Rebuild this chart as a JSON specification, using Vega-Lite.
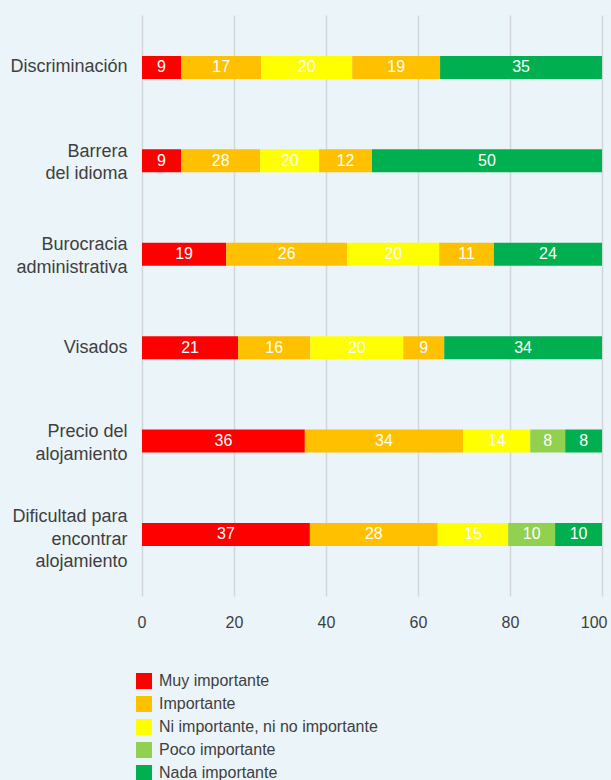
{
  "$schema": "https://vega.github.io/schema/vega-lite/v6.json",
  "autosize": "none",
  "width": 460,
  "height": 581,
  "padding": {"left": 142, "top": 15, "right": 9, "bottom": 184},
  "background": "#EAF4F9",
  "config": {
    "view": {"stroke": null},
    "font": "Liberation Sans",
    "axis": {"labelFont": "Liberation Sans", "labelColor": "#3F3F3F"},
    "legend": {"labelFont": "Liberation Sans", "labelColor": "#3F3F3F"}
  },
  "data": {
    "values": [
      {"categoria": "Discriminación", "serie": "Muy importante", "orden": 1, "valor": 8.5, "etiqueta": "9"},
      {"categoria": "Discriminación", "serie": "Importante", "orden": 2, "valor": 17.4, "etiqueta": "17"},
      {"categoria": "Discriminación", "serie": "Ni importante, ni no importante", "orden": 3, "valor": 19.8, "etiqueta": "20"},
      {"categoria": "Discriminación", "serie": "Poco importante*", "orden": 4, "valor": 19.1, "etiqueta": "19"},
      {"categoria": "Discriminación", "serie": "Nada importante", "orden": 5, "valor": 35.2, "etiqueta": "35"},
      {"categoria": "Barrera|del idioma", "serie": "Muy importante", "orden": 1, "valor": 8.5, "etiqueta": "9"},
      {"categoria": "Barrera|del idioma", "serie": "Importante", "orden": 2, "valor": 17.2, "etiqueta": "28"},
      {"categoria": "Barrera|del idioma", "serie": "Ni importante, ni no importante", "orden": 3, "valor": 12.8, "etiqueta": "20"},
      {"categoria": "Barrera|del idioma", "serie": "Poco importante*", "orden": 4, "valor": 11.5, "etiqueta": "12"},
      {"categoria": "Barrera|del idioma", "serie": "Nada importante", "orden": 5, "valor": 50, "etiqueta": "50"},
      {"categoria": "Burocracia|administrativa", "serie": "Muy importante", "orden": 1, "valor": 18.3, "etiqueta": "19"},
      {"categoria": "Burocracia|administrativa", "serie": "Importante", "orden": 2, "valor": 26.3, "etiqueta": "26"},
      {"categoria": "Burocracia|administrativa", "serie": "Ni importante, ni no importante", "orden": 3, "valor": 20, "etiqueta": "20"},
      {"categoria": "Burocracia|administrativa", "serie": "Poco importante*", "orden": 4, "valor": 11.9, "etiqueta": "11"},
      {"categoria": "Burocracia|administrativa", "serie": "Nada importante", "orden": 5, "valor": 23.5, "etiqueta": "24"},
      {"categoria": "Visados", "serie": "Muy importante", "orden": 1, "valor": 20.9, "etiqueta": "21"},
      {"categoria": "Visados", "serie": "Importante", "orden": 2, "valor": 15.7, "etiqueta": "16"},
      {"categoria": "Visados", "serie": "Ni importante, ni no importante", "orden": 3, "valor": 20.2, "etiqueta": "20"},
      {"categoria": "Visados", "serie": "Poco importante*", "orden": 4, "valor": 8.9, "etiqueta": "9"},
      {"categoria": "Visados", "serie": "Nada importante", "orden": 5, "valor": 34.3, "etiqueta": "34"},
      {"categoria": "Precio del|alojamiento", "serie": "Muy importante", "orden": 1, "valor": 35.4, "etiqueta": "36"},
      {"categoria": "Precio del|alojamiento", "serie": "Importante", "orden": 2, "valor": 34.4, "etiqueta": "34"},
      {"categoria": "Precio del|alojamiento", "serie": "Ni importante, ni no importante", "orden": 3, "valor": 14.6, "etiqueta": "14"},
      {"categoria": "Precio del|alojamiento", "serie": "Poco importante", "orden": 4, "valor": 7.6, "etiqueta": "8"},
      {"categoria": "Precio del|alojamiento", "serie": "Nada importante", "orden": 5, "valor": 8, "etiqueta": "8"},
      {"categoria": "Dificultad para|encontrar|alojamiento", "serie": "Muy importante", "orden": 1, "valor": 36.5, "etiqueta": "37"},
      {"categoria": "Dificultad para|encontrar|alojamiento", "serie": "Importante", "orden": 2, "valor": 27.8, "etiqueta": "28"},
      {"categoria": "Dificultad para|encontrar|alojamiento", "serie": "Ni importante, ni no importante", "orden": 3, "valor": 15.3, "etiqueta": "15"},
      {"categoria": "Dificultad para|encontrar|alojamiento", "serie": "Poco importante", "orden": 4, "valor": 10.2, "etiqueta": "10"},
      {"categoria": "Dificultad para|encontrar|alojamiento", "serie": "Nada importante", "orden": 5, "valor": 10.2, "etiqueta": "10"}
    ]
  },
  "encoding": {
    "y": {
      "field": "categoria",
      "type": "nominal",
      "sort": null,
      "scale": {"paddingInner": 0.754, "paddingOuter": 0.487, "align": 0.45},
      "axis": {
        "title": null,
        "ticks": false,
        "domain": false,
        "labelExpr": "split(datum.label, '|')",
        "labelFontSize": 18,
        "labelPadding": 15,
        "labelLineHeight": 22.5,
        "labelLimit": 200,
        "labelOffset": {
          "condition": [
            {"test": "length(split(datum.value, '|')) == 3", "value": -17},
            {"test": "length(split(datum.value, '|')) == 2", "value": -9}
          ],
          "value": 0
        }
      }
    }
  },
  "layer": [
    {
      "mark": {"type": "bar"},
      "encoding": {
        "x": {
          "field": "valor",
          "type": "quantitative",
          "stack": "zero",
          "scale": {"domain": [0, 100], "nice": false},
          "axis": {
            "title": null,
            "values": [0, 20, 40, 60, 80, 100],
            "grid": true,
            "gridColor": "#D3D7DA",
            "gridWidth": 1.5,
            "ticks": false,
            "domain": false,
            "labelFontSize": 16,
            "labelPadding": 18,
            "labelFlush": true,
            "labelFlushOffset": 5
          }
        },
        "color": {
          "field": "serie",
          "type": "nominal",
          "scale": {
            "domain": ["Muy importante", "Importante", "Ni importante, ni no importante", "Poco importante", "Nada importante", "Poco importante*"],
            "range": ["#FF0000", "#FFC000", "#FFFF00", "#92D050", "#00B050", "#FFC000"]
          },
          "legend": {
            "title": null,
            "values": ["Muy importante", "Importante", "Ni importante, ni no importante", "Poco importante", "Nada importante"],
            "orient": "none",
            "legendX": -6,
            "legendY": 658,
            "symbolType": "square",
            "symbolSize": 256,
            "symbolStrokeWidth": 0,
            "symbolOpacity": 1,
            "labelFontSize": 16,
            "rowPadding": 7,
            "labelOffset": 7,
            "labelLimit": 400
          }
        },
        "order": {"field": "orden", "type": "quantitative"}
      }
    },
    {
      "mark": {"type": "text", "color": "white", "fontSize": 16, "baseline": "middle", "align": "center"},
      "encoding": {
        "x": {"field": "valor", "type": "quantitative", "stack": "zero", "bandPosition": 0.5},
        "text": {"field": "etiqueta"},
        "order": {"field": "orden", "type": "quantitative"},
        "detail": {"field": "serie"}
      }
    }
  ]
}
